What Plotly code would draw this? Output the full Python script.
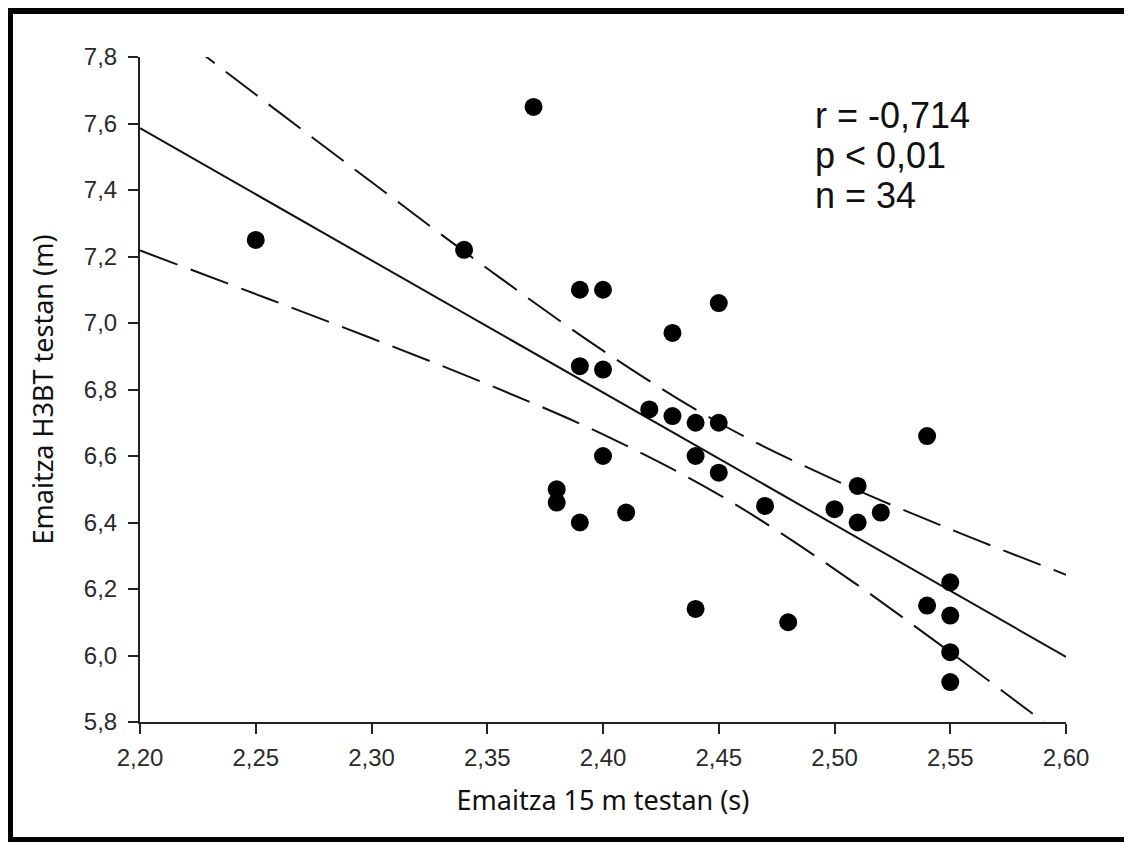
import plotly.graph_objects as go

# Scatter data: 15 m sprint time (s) vs H3BT result (m)
sprint_s = [2.25, 2.34, 2.37, 2.39, 2.40, 2.45, 2.43, 2.39, 2.40, 2.42,
            2.43, 2.44, 2.45, 2.40, 2.44, 2.45, 2.38, 2.38, 2.39, 2.41,
            2.47, 2.54, 2.51, 2.50, 2.51, 2.52, 2.55, 2.54, 2.55, 2.55,
            2.55, 2.44, 2.48]
h3bt_m = [7.25, 7.22, 7.65, 7.10, 7.10, 7.06, 6.97, 6.87, 6.86, 6.74,
          6.72, 6.70, 6.70, 6.60, 6.60, 6.55, 6.50, 6.46, 6.40, 6.43,
          6.45, 6.66, 6.51, 6.44, 6.40, 6.43, 6.22, 6.15, 6.12, 6.01,
          5.92, 6.14, 6.10]

# Regression line
fit_x = [2.20, 2.60]
fit_y = [7.586, 5.996]

# Confidence band
band_x = [2.20, 2.25, 2.30, 2.35, 2.40, 2.45, 2.50, 2.55, 2.60]
band_upper = [7.954, 7.687, 7.424, 7.164, 6.917, 6.700, 6.528, 6.380, 6.243]
band_lower = [7.218, 7.087, 6.954, 6.816, 6.665, 6.484, 6.260, 6.010, 5.749]

x_ticks = [2.20, 2.25, 2.30, 2.35, 2.40, 2.45, 2.50, 2.55, 2.60]
y_ticks = [5.8, 6.0, 6.2, 6.4, 6.6, 6.8, 7.0, 7.2, 7.4, 7.6, 7.8]

stats_lines = ["r = -0,714", "p < 0,01", "n = 34"]

# The page body adds an 8px margin; figure coordinates are page minus 8
OFF = 8
W, H = 1132, 842
L, R, T, B = 140 - OFF, 1066 - OFF, 57 - OFF, 722 - OFF

fig = go.Figure()

dash = "40px,14px"
fig.add_trace(go.Scatter(x=band_x, y=band_upper, mode="lines",
                         line=dict(color="#111", width=2, dash=dash, shape="spline"),
                         hoverinfo="skip"))
fig.add_trace(go.Scatter(x=band_x, y=band_lower, mode="lines",
                         line=dict(color="#111", width=2, dash=dash, shape="spline"),
                         hoverinfo="skip"))
fig.add_trace(go.Scatter(x=fit_x, y=fit_y, mode="lines",
                         line=dict(color="#111", width=2)))
fig.add_trace(go.Scatter(x=sprint_s, y=h3bt_m, mode="markers",
                         marker=dict(color="black", size=18, line=dict(width=0)),
                         cliponaxis=False))

tick_font = dict(family="Liberation Sans, Arial", size=24, color="#2a2a2a")
title_font = dict(family="Noto Sans", size=27, color="#111")

fig.update_xaxes(range=[2.20, 2.60], tickvals=x_ticks,
                 ticktext=[f"{v:.2f}".replace(".", ",") for v in x_ticks],
                 showline=True, linecolor="#222", linewidth=2,
                 ticks="outside", ticklen=10, tickwidth=2, tickcolor="#222",
                 showgrid=False, zeroline=False, tickfont=tick_font,
                 ticklabelstandoff=3,
                 title=dict(text="Emaitza 15 m testan (s)", font=title_font,
                            standoff=21))
fig.update_yaxes(range=[5.8, 7.8], tickvals=y_ticks,
                 ticktext=[f"{v:.1f}".replace(".", ",") for v in y_ticks],
                 showline=True, linecolor="#222", linewidth=2,
                 ticks="outside", ticklen=10, tickwidth=2, tickcolor="#222",
                 showgrid=False, zeroline=False, tickfont=tick_font,
                 ticklabelstandoff=6,
                 title=dict(text="Emaitza H3BT testan (m)", font=title_font,
                            standoff=22))

ann_y = [7.625, 7.505, 7.382]
for txt, yv in zip(stats_lines, ann_y):
    fig.add_annotation(x=2.4905, y=yv, xref="x", yref="y", text=txt,
                       showarrow=False, xanchor="left", yanchor="middle",
                       font=dict(family="Liberation Sans, Arial", size=36, color="#111"))

# Frame (figure pixel positions converted to paper units)
def px(xf):
    return (xf - L) / (R - L)

def py(yf):
    return (B - yf) / (B - T)

frame = [(0, 0, 5, 834), (0, 0, W, 6), (0, 829, W, 834)]
for x0, y0, x1, y1 in frame:
    fig.add_shape(type="rect", xref="paper", yref="paper",
                  x0=px(x0), x1=px(x1), y0=py(y1), y1=py(y0),
                  fillcolor="black", line=dict(width=0), layer="above")

fig.update_layout(width=W, height=H,
                  margin=dict(l=L, r=W - R, t=T, b=H - B),
                  paper_bgcolor="white", plot_bgcolor="white",
                  showlegend=False)

fig.write_html("out.html")
